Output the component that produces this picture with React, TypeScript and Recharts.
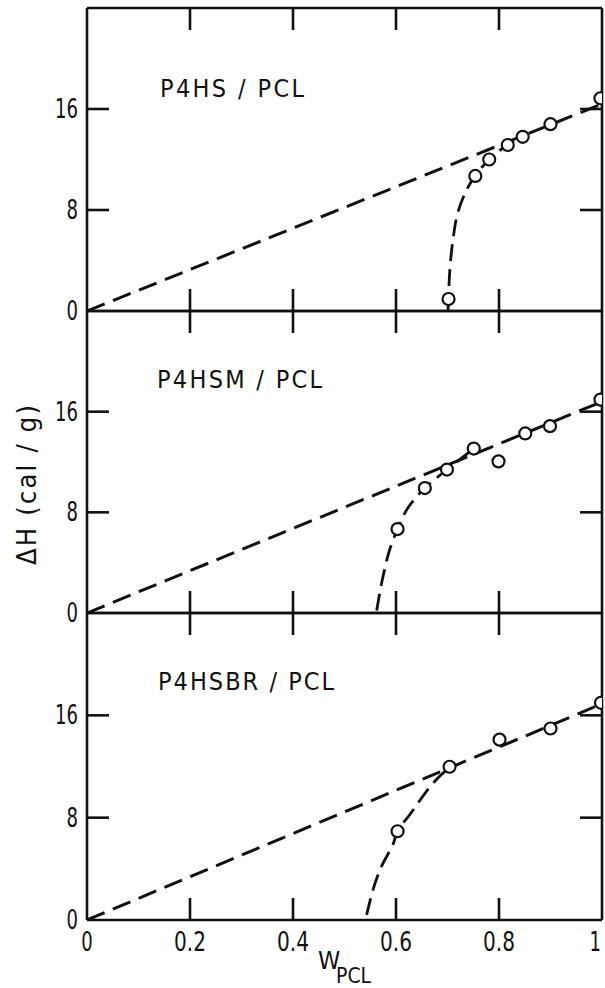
import React from 'react';
import { ComposedChart, Line, Scatter, XAxis, YAxis } from 'recharts';

const xTicks = [0, 0.2, 0.4, 0.6, 0.8, 1];
const yTicks = [0, 8, 16];
const yMax = 24;

const panelTitles = ['P4HS / PCL', 'P4HSM / PCL', 'P4HSBR / PCL'];
const yTitle = 'ΔH (cal / g)';
const xTitleMain = 'W';
const xTitleSub = 'PCL';

// Panel 1: P4HS / PCL
const p1PointsX = [0.702, 0.754, 0.781, 0.817, 0.846, 0.9, 0.997];
const p1PointsY = [0.95, 10.7, 12.0, 13.15, 13.8, 14.8, 16.85];
const p1LineX = [0, 1];
const p1LineY = [0, 16.4];
const p1CurveX = [0.701, 0.702, 0.704, 0.7105, 0.7196, 0.731, 0.744, 0.754, 0.781, 0.817, 0.846];
const p1CurveY = [0, 0.95, 2.94, 5.59, 7.72, 9.05, 10.1, 10.7, 12.0, 13.15, 13.8];

// Panel 2: P4HSM / PCL
const p2PointsX = [0.603, 0.656, 0.699, 0.751, 0.799, 0.851, 0.899, 0.997];
const p2PointsY = [6.67, 9.93, 11.4, 13.07, 12.05, 14.27, 14.85, 16.96];
const p2LineX = [0, 1];
const p2LineY = [0, 16.8];
const p2CurveX = [0.5625, 0.575, 0.588, 0.603, 0.624, 0.656, 0.699, 0.751];
const p2CurveY = [0.2, 2.94, 5.07, 6.67, 8.4, 9.93, 11.4, 13.07];

// Panel 3: P4HSBR / PCL
const p3PointsX = [0.603, 0.704, 0.801, 0.9, 0.998];
const p3PointsY = [6.94, 11.98, 14.1, 14.97, 16.98];
const p3LineX = [0, 1];
const p3LineY = [0, 16.9];
const p3CurveX = [0.543, 0.572, 0.595, 0.603, 0.627, 0.679, 0.704];
const p3CurveY = [0.4, 4.2, 6.0, 6.94, 8.25, 11.0, 11.98];

const FONT = "'Liberation Sans Narrow', 'DejaVu Sans Condensed', 'Liberation Sans', sans-serif";
const INK = '#111';
const AXW = 2.6;
const TICK = 22;
const W = 605;
const H = 988;

const zip = (xs: number[], ys: number[]) => xs.map((x, i) => ({ x, y: ys[i] }));

const labelLength = (s: string) => {
  let n = 0;
  for (const ch of s) n += ch === '.' ? 9 : 11.5;
  return n;
};

const LeftTick = (props: any) => {
  const { x, y, payload } = props;
  const s = String(payload.value);
  return (
    <g>
      {payload.value !== 0 && (
        <line x1={x} y1={y} x2={x + TICK} y2={y} stroke={INK} strokeWidth={AXW} />
      )}
      <text x={x - 9} y={y} dy="0.35em" textAnchor="end" fontSize={26} fill={INK}
        fontFamily={FONT} textLength={labelLength(s)} lengthAdjust="spacingAndGlyphs">
        {s}
      </text>
    </g>
  );
};

const RightTick = (props: any) => {
  const { x, y, payload } = props;
  if (payload.value === 0) return <g />;
  return <line x1={x} y1={y} x2={x - TICK} y2={y} stroke={INK} strokeWidth={AXW} />;
};

const TopTick = (props: any) => {
  const { x, y, payload } = props;
  if (payload.value === 0 || payload.value === 1) return <g />;
  return <line x1={x} y1={y} x2={x} y2={y + TICK} stroke={INK} strokeWidth={AXW} />;
};

const makeBottomTick = (showLabels: boolean) => (props: any) => {
  const { x, y, payload } = props;
  const s = String(payload.value);
  const isLast = payload.value === 1;
  return (
    <g>
      {payload.value !== 0 && !isLast && (
        <line x1={x} y1={y} x2={x} y2={y - TICK} stroke={INK} strokeWidth={AXW} />
      )}
      {showLabels && (
        <text x={isLast ? x - 1 : x} y={y + 31} textAnchor={isLast ? 'end' : 'middle'} fontSize={26} fill={INK}
          fontFamily={FONT} textLength={labelLength(s)} lengthAdjust="spacingAndGlyphs">
          {s}
        </text>
      )}
    </g>
  );
};

const Circle = (props: any) => {
  const { cx, cy } = props;
  if (cx == null || cy == null) return <g />;
  return <circle cx={cx} cy={cy} r={6} fill="#fff" stroke={INK} strokeWidth={2.2} />;
};

type PanelProps = {
  top: number;
  bottom: number;
  points: { x: number; y: number }[];
  line: { x: number; y: number }[];
  curve: { x: number; y: number }[];
  showXLabels: boolean;
};

const Panel = ({ top, bottom, points, line, curve, showXLabels }: PanelProps) => (
  <div style={{ position: 'absolute', left: 0, top: 0, width: W, height: H }}>
    <ComposedChart width={W} height={H} margin={{ top: top - 1, bottom: H - bottom - 1, left: 86, right: 2 }}>
      <XAxis xAxisId="b" dataKey="x" type="number" domain={[0, 1]} ticks={xTicks} allowDataOverflow
        height={1} tickSize={0} tickMargin={0} interval={0}
        axisLine={{ stroke: INK, strokeWidth: AXW }} tickLine={false} tick={makeBottomTick(showXLabels)} />
      <XAxis xAxisId="t" orientation="top" dataKey="x" type="number" domain={[0, 1]} ticks={xTicks} allowDataOverflow
        height={1} tickSize={0} tickMargin={0} interval={0}
        axisLine={{ stroke: INK, strokeWidth: AXW }} tickLine={false} tick={TopTick} />
      <YAxis yAxisId="l" type="number" domain={[0, yMax]} ticks={yTicks} allowDataOverflow
        width={1} tickSize={0} tickMargin={0} interval={0}
        axisLine={{ stroke: INK, strokeWidth: AXW }} tickLine={false} tick={LeftTick} />
      <YAxis yAxisId="r" orientation="right" type="number" domain={[0, yMax]} ticks={yTicks} allowDataOverflow
        width={1} tickSize={0} tickMargin={0} interval={0}
        axisLine={{ stroke: INK, strokeWidth: AXW }} tickLine={false} tick={RightTick} />
      <Line xAxisId="b" yAxisId="l" data={line} dataKey="y" type="linear" stroke={INK} strokeWidth={3}
        strokeDasharray="19 9" dot={false} activeDot={false} isAnimationActive={false} />
      <Line xAxisId="b" yAxisId="l" data={curve} dataKey="y" type="monotoneY" stroke={INK} strokeWidth={2.8}
        strokeDasharray="17 8" dot={false} activeDot={false} isAnimationActive={false} />
      <Scatter xAxisId="b" yAxisId="l" data={points} dataKey="y" shape={Circle} isAnimationActive={false} />
    </ComposedChart>
  </div>
);

export default function App() {
  return (
    <div style={{ position: 'absolute', left: 0, top: 0, width: W, height: H, background: '#fff', overflow: 'hidden' }}>
      <Panel top={8} bottom={311} points={zip(p1PointsX, p1PointsY)} line={zip(p1LineX, p1LineY)}
        curve={zip(p1CurveX, p1CurveY)} showXLabels={false} />
      <Panel top={311} bottom={613} points={zip(p2PointsX, p2PointsY)} line={zip(p2LineX, p2LineY)}
        curve={zip(p2CurveX, p2CurveY)} showXLabels={false} />
      <Panel top={613} bottom={920} points={zip(p3PointsX, p3PointsY)} line={zip(p3LineX, p3LineY)}
        curve={zip(p3CurveX, p3CurveY)} showXLabels={true} />
      <svg width={W} height={H} style={{ position: 'absolute', left: 0, top: 0, pointerEvents: 'none' }}>
        <g fontFamily={FONT} fill={INK}>
          <text x={160} y={97} fontSize={25} textLength={144} lengthAdjust="spacing">{panelTitles[0]}</text>
          <text x={157} y={388} fontSize={25} textLength={165} lengthAdjust="spacing">{panelTitles[1]}</text>
          <text x={158} y={690} fontSize={25} textLength={176} lengthAdjust="spacing">{panelTitles[2]}</text>
          <text transform="translate(36, 485) rotate(-90)" textAnchor="middle" fontSize={27}
            textLength={160} lengthAdjust="spacing">{yTitle}</text>
          <text x={318} y={969} fontSize={25}>{xTitleMain}</text>
          <text x={336} y={983} fontSize={21}>{xTitleSub}</text>
        </g>
      </svg>
    </div>
  );
}
